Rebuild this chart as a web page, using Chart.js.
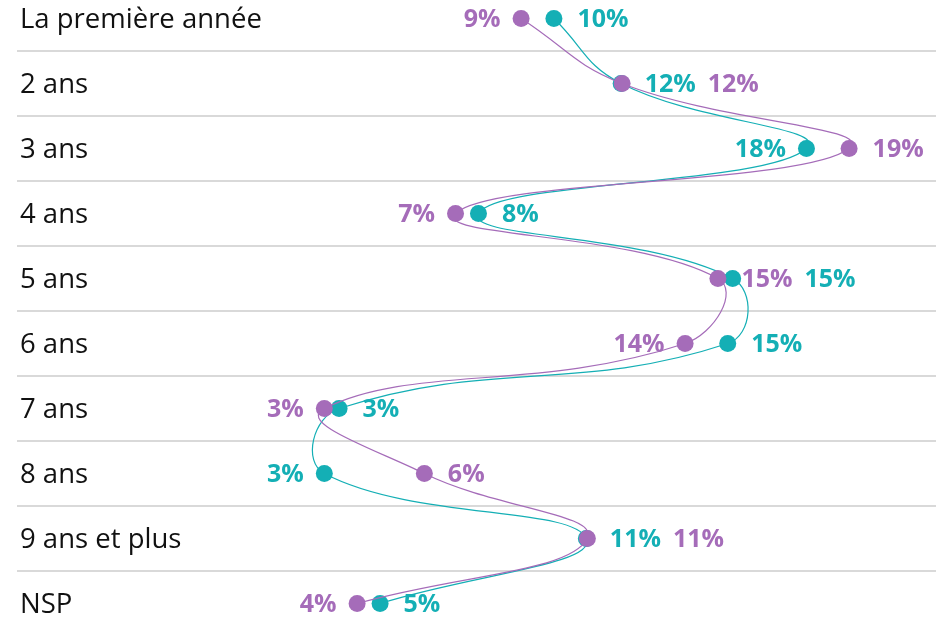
<!DOCTYPE html>
<html>
<head>
<meta charset="utf-8">
<script src="https://cdn.jsdelivr.net/npm/chart.js@4/dist/chart.umd.min.js"></script>
<style>
  html, body { margin: 0; padding: 0; background: #fff; overflow: hidden; }
  #wrap { position: absolute; left: 0; top: -14px; width: 936px; height: 650px; }
</style>
</head>
<body>
<div id="wrap"><canvas id="chart"></canvas></div>
<script>
var CATEGORIES = ["La première année", "2 ans", "3 ans", "4 ans", "5 ans", "6 ans", "7 ans", "8 ans", "9 ans et plus", "NSP"];
var SERIES_A = [9.0, 12.08, 19.0, 7.0, 15.0, 14.0, 3.0, 6.05, 11.02, 4.0];   // violet
var SERIES_B = [10.0, 12.05, 17.7, 7.7, 15.45, 15.3, 3.45, 3.0, 10.99, 4.7];  // turquoise
// rows where Excel put both labels to the right of the points
var STACKED_ROWS = ["2 ans", "5 ans", "9 ans et plus"];

var COLORS = {
    a: "#a56cb9",
    b: "#14afb5",
    text: "#111111",
    grid: "#d9d9d9"
};
var FONT_FAMILY = "'Open Sans'";
var LABEL_FONT = "bold 25px " + FONT_FAMILY;
var CATEGORY_FONT = "27.5px " + FONT_FAMILY;

// category names, drawn inside the plot on top of the row grid
var categoryLabels = {
    id: "categoryLabels",
    afterDraw: function (chart) {
        var ctx = chart.ctx;
        var yScale = chart.scales.y;

        ctx.save();
        ctx.font = CATEGORY_FONT;
        ctx.fillStyle = COLORS.text;
        ctx.textAlign = "left";
        ctx.textBaseline = "middle";
        CATEGORIES.forEach(function (cat, i) {
            ctx.fillText(cat, 20, yScale.getPixelForTick(i) + 1.5);
        });
        ctx.restore();
    }
};

var valueLabels = {
    id: "valueLabels",
    afterDatasetsDraw: function (chart) {
        var ctx = chart.ctx;
        var metaA = chart.getDatasetMeta(0);
        var metaB = chart.getDatasetMeta(1);
        var r = 8.5;

        ctx.save();
        ctx.font = LABEL_FONT;
        ctx.textBaseline = "middle";

        CATEGORIES.forEach(function (cat, i) {
            var items = [
                { p: metaA.data[i], v: SERIES_A[i], c: COLORS.a },
                { p: metaB.data[i], v: SERIES_B[i], c: COLORS.b }
            ].sort(function (m, n) { return m.p.x - n.p.x; });
            var left = items[0];
            var right = items[1];
            var t1 = Math.round(left.v) + "%";
            var t2 = Math.round(right.v) + "%";
            var x;

            if (STACKED_ROWS.indexOf(cat) !== -1) {
                x = left.p.x + r + 15;
                ctx.textAlign = "left";
                ctx.fillStyle = left.c;
                ctx.fillText(t1, x, left.p.y + 1);
                x += ctx.measureText(t1).width + 12;
                ctx.fillStyle = right.c;
                ctx.fillText(t2, x, right.p.y + 1);
            } else {
                ctx.textAlign = "right";
                ctx.fillStyle = left.c;
                ctx.fillText(t1, left.p.x - r - 12, left.p.y + 1);
                ctx.textAlign = "left";
                ctx.fillStyle = right.c;
                ctx.fillText(t2, right.p.x + r + 15, right.p.y + 1);
            }
        });
        ctx.restore();
    }
};

function series(label, values, color) {
    return {
        label: label,
        data: values,
        borderColor: color,
        backgroundColor: color,
        borderWidth: 1.2,
        pointRadius: 8.5,
        pointHoverRadius: 8.5,
        pointBorderWidth: 0,
        tension: 0.45
    };
}

new Chart(document.getElementById("chart").getContext("2d"), {
    type: "line",
    data: {
        labels: CATEGORIES,
        datasets: [
            series("A", SERIES_A, COLORS.a),
            series("B", SERIES_B, COLORS.b)
        ]
    },
    options: {
        indexAxis: "y",
        responsive: true,
        maintainAspectRatio: false,
        animation: false,
        layout: {
            autoPadding: false,
            padding: { left: 17, right: 0, top: 0, bottom: 0 }
        },
        plugins: {
            legend: { display: false },
            tooltip: { enabled: false }
        },
        scales: {
            x: {
                type: "linear",
                display: false,
                min: -6.37,
                max: 21.65
            },
            y: {
                type: "category",
                offset: true,
                border: { display: false },
                grid: {
                    color: COLORS.grid,
                    lineWidth: 2,
                    drawTicks: false,
                    offset: true
                },
                ticks: { display: false }
            }
        }
    },
    plugins: [valueLabels, categoryLabels]
});
</script>
</body>
</html>
